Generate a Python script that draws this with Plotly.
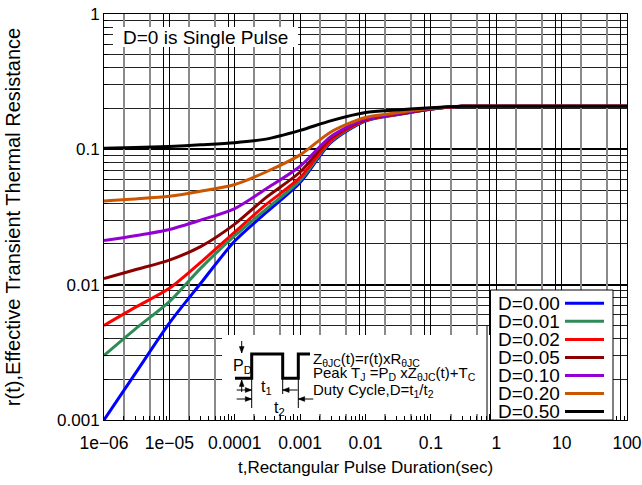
import plotly.graph_objects as go

# ---------------- data ----------------
t = [1e-6, 3e-6, 1e-5, 3e-5, 1e-4, 3e-4, 1e-3, 3e-3, 1e-2, 3e-2, 1e-1, 3e-1, 1, 10, 100]

r_d000 = [0.0010, 0.0022, 0.0052, 0.0102, 0.0210, 0.034, 0.057, 0.113, 0.162, 0.180, 0.198, 0.208, 0.208, 0.208, 0.208]
r_d001 = [0.0030, 0.0047, 0.0075, 0.0132, 0.0230, 0.036, 0.059, 0.115, 0.163, 0.181, 0.198, 0.208, 0.208, 0.208, 0.208]
r_d002 = [0.0050, 0.0068, 0.0094, 0.0146, 0.0245, 0.039, 0.062, 0.117, 0.164, 0.181, 0.199, 0.208, 0.208, 0.208, 0.208]
r_d005 = [0.0111, 0.0129, 0.0152, 0.0191, 0.0280, 0.044, 0.068, 0.122, 0.166, 0.182, 0.199, 0.208, 0.208, 0.208, 0.208]
r_d010 = [0.0212, 0.0230, 0.0256, 0.0300, 0.0365, 0.051, 0.075, 0.125, 0.167, 0.183, 0.200, 0.208, 0.208, 0.208, 0.208]
r_d020 = [0.0416, 0.0430, 0.0450, 0.0490, 0.0550, 0.068, 0.091, 0.135, 0.172, 0.186, 0.201, 0.208, 0.208, 0.208, 0.208]
r_d050 = [0.102, 0.103, 0.105, 0.108, 0.112, 0.119, 0.138, 0.163, 0.187, 0.195, 0.203, 0.208, 0.208, 0.208, 0.208]

series_names = ["D=0.00", "D=0.01", "D=0.02", "D=0.05", "D=0.10", "D=0.20", "D=0.50"]
series_values = [r_d000, r_d001, r_d002, r_d005, r_d010, r_d020, r_d050]
series_colors = ["#0000FF", "#2E8B57", "#FF0000", "#8B0000", "#9400D3", "#CC5500", "#000000"]

x_tickvals = [1e-6, 1e-5, 1e-4, 1e-3, 1e-2, 1e-1, 1, 10, 100]
x_ticktext = ["1e\u221206", "1e\u221205", "0.0001", "0.001", "0.01", "0.1", "1", "10", "100"]
y_tickvals = [0.001, 0.01, 0.1, 1]
y_ticktext = ["0.001", "0.01", "0.1", "1"]

x_title = "t,Rectangular Pulse Duration(sec)"
y_title = "r(t),Effective Transient Thermal Resistance"
note_text = "D=0 is Single Pulse"
formula_lines = [
    "Z<sub>\u03b8JC</sub>(t)=r(t)xR<sub>\u03b8JC</sub>",
    "Peak T<sub>J</sub> =P<sub>D</sub> xZ<sub>\u03b8JC</sub>(t)+T<sub>C</sub>",
    "Duty Cycle,D=t<sub>1</sub>/t<sub>2</sub>",
]

# ---------------- layout helpers ----------------
W, H = 642, 485
L, R, T, B = 104, 15, 14, 65
PW, PH = W - L - R, H - T - B
FONT = "Liberation Sans, Arial, Helvetica, sans-serif"
XR, YR = "paper", "paper"


def px(x):
    return (x - L) / PW


def py(y):
    return (T + PH - y) / PH


decades_x = range(-6, 2)
minor_all_x = [m * 10 ** e for e in decades_x for m in range(2, 10)]
grid25_x = [m * 10 ** e for e in decades_x for m in (2, 5)]
grid8_x = [8 * 10 ** e for e in decades_x]
minor_all_y = [m * 10 ** e for e in range(-3, 0) for m in range(2, 10)]

fig = go.Figure()
for name, vals, col in zip(series_names, series_values, series_colors):
    fig.add_trace(go.Scatter(
        x=t, y=vals, mode="lines", name=name,
        line=dict(color=col, width=3, shape="spline", smoothing=0.8),
        showlegend=False,
    ))

fig.update_layout(
    width=W, height=H,
    margin=dict(l=L, r=R, t=T, b=B),
    paper_bgcolor="white", plot_bgcolor="white",
    font=dict(family=FONT, size=16, color="black"),
    xaxis=dict(
        type="log", range=[-6, 2],
        tickvals=x_tickvals, ticktext=x_ticktext, tickfont=dict(size=17.5),
        ticklabelstandoff=7, ticklabeloverflow="allow",
        showgrid=True, gridcolor="black", gridwidth=1,
        ticks="inside", ticklen=6, tickcolor="black",
        showline=True, linecolor="black", linewidth=1, mirror=True,
        minor=dict(tickvals=minor_all_x, ticks="inside", ticklen=4,
                   tickcolor="black", showgrid=False),
        title=dict(text=x_title, font=dict(size=17), standoff=9),
        zeroline=False, automargin=False,
    ),
    xaxis2=dict(
        type="log", range=[-6, 2], overlaying="x", anchor="y",
        tickvals=grid25_x, showticklabels=False, ticks="",
        showgrid=True, gridcolor="#8a8a8a", gridwidth=1.5,
        showline=False, zeroline=False, automargin=False,
    ),
    xaxis3=dict(
        type="log", range=[-6, 2], overlaying="x", anchor="y",
        tickvals=grid8_x, showticklabels=False, ticks="",
        showgrid=True, gridcolor="black", gridwidth=1,
        showline=False, zeroline=False, automargin=False,
    ),
    yaxis=dict(
        type="log", range=[-3, 0],
        tickvals=y_tickvals, ticktext=y_ticktext, tickfont=dict(size=17),
        showgrid=True, gridcolor="black", gridwidth=1.5,
        ticks="inside", ticklen=6, tickcolor="black",
        showline=True, linecolor="black", linewidth=1, mirror=True,
        minor=dict(tickvals=minor_all_y, ticks="inside", ticklen=4,
                   tickcolor="black", showgrid=True, gridcolor="#222222", gridwidth=1),
        title=dict(text=y_title, font=dict(size=20), standoff=31),
        zeroline=False, automargin=False,
    ),
)

# invisible helper traces so the overlay grid axes are drawn
for ax in ("x2", "x3"):
    fig.add_trace(go.Scatter(x=[t[0], t[-1]], y=[r_d000[0], r_d000[-1]], xaxis=ax, yaxis="y",
                             mode="lines", line=dict(width=0), hoverinfo="skip", showlegend=False))

shapes = []
annotations = []


def seg(x0, y0, x1, y1, width=1, color="black"):
    shapes.append(dict(type="line", xref=XR, yref=YR, layer="above",
                       x0=px(x0), x1=px(x1), y0=py(y0), y1=py(y1),
                       line=dict(color=color, width=width)))


def arrow(xt, yt, dx, dy, length=14, head=4):
    # arrow whose tip is at (xt, yt), coming from direction (dx, dy)
    seg(xt + dx * length, yt + dy * length, xt, yt)
    bx, by = xt + dx * head * 1.6, yt + dy * head * 1.6
    nx, ny = -dy, dx
    p = [(xt, yt), (bx + nx * head * 0.6, by + ny * head * 0.6), (bx - nx * head * 0.6, by - ny * head * 0.6)]
    path = "M " + " L ".join(f"{px(a):.5f},{py(b):.5f}" for a, b in p) + " Z"
    shapes.append(dict(type="path", xref=XR, yref=YR, layer="above", path=path,
                       fillcolor="black", line=dict(color="black", width=0.5)))


def white_box(x0, x1, y_top, y_bot, border=False):
    shapes.append(dict(type="rect", xref=XR, yref=YR, layer="above",
                       x0=px(x0), x1=px(x1), y0=py(y_bot), y1=py(y_top),
                       fillcolor="white",
                       line=dict(color="black", width=1) if border else dict(width=0)))


# "D=0 is Single Pulse" label with white background
white_box(113, 298, 27, 47)
annotations.append(dict(xref=XR, yref=YR, x=px(205.5), y=py(37.5),
                        text=note_text, showarrow=False, font=dict(size=19),
                        xanchor="center", yanchor="middle"))

# inset white area (leaves the inside ticks of the bottom axis visible)
white_box(222, 490, 335, 414)
seg(487, 420, 487, 326)

# pulse waveform
pts = [(235, 378.3), (251.7, 378.3), (251.7, 354), (282.7, 354), (282.7, 378.3),
       (298.3, 378.3), (298.3, 354), (310, 354)]
path = "M " + " L ".join(f"{px(a):.5f},{py(b):.5f}" for a, b in pts)
shapes.append(dict(type="path", xref=XR, yref=YR, layer="above", path=path,
                   line=dict(color="black", width=3)))
for xa, yb in [(251.7, 408), (282.7, 394), (298.3, 408)]:
    seg(xa, 378.3, xa, yb)

arrow(241.7, 353, 0, -1, length=12)
arrow(241.7, 380, 0, 1, length=12)
arrow(251.7, 390, -1, 0, length=15)
arrow(282.7, 390, 1, 0, length=15)
arrow(251.7, 399, -1, 0, length=15)
arrow(298.3, 399, 1, 0, length=15)

annotations.append(dict(xref=XR, yref=YR, x=px(242), y=py(366), text="P<sub>D</sub>",
                        showarrow=False, font=dict(size=16), xanchor="center", yanchor="middle"))
annotations.append(dict(xref=XR, yref=YR, x=px(266), y=py(387), text="t<sub>1</sub>",
                        showarrow=False, font=dict(size=16), xanchor="center", yanchor="middle"))
annotations.append(dict(xref=XR, yref=YR, x=px(279), y=py(408), text="t<sub>2</sub>",
                        showarrow=False, font=dict(size=16), xanchor="center", yanchor="middle"))
for line_txt, yc in zip(formula_lines, [359, 373, 390]):
    annotations.append(dict(xref=XR, yref=YR, x=px(311), y=py(yc), text=line_txt,
                            showarrow=False, font=dict(size=15), xanchor="left", yanchor="middle"))

# legend box (text then line sample)
white_box(490.5, 613, 290, 420, border=True)
row0, step = 303.3, 18.05
for i, (name, col) in enumerate(zip(series_names, series_colors)):
    yc = row0 + i * step
    annotations.append(dict(xref=XR, yref=YR, x=px(496), y=py(yc), text=name,
                            showarrow=False, font=dict(size=19), xanchor="left", yanchor="middle"))
    seg(565, yc, 604, yc, width=3, color=col)

fig.update_layout(shapes=shapes, annotations=annotations)
fig.write_html("out.html", config={"displayModeBar": False},
               post_script="document.body.style.margin='0';")
